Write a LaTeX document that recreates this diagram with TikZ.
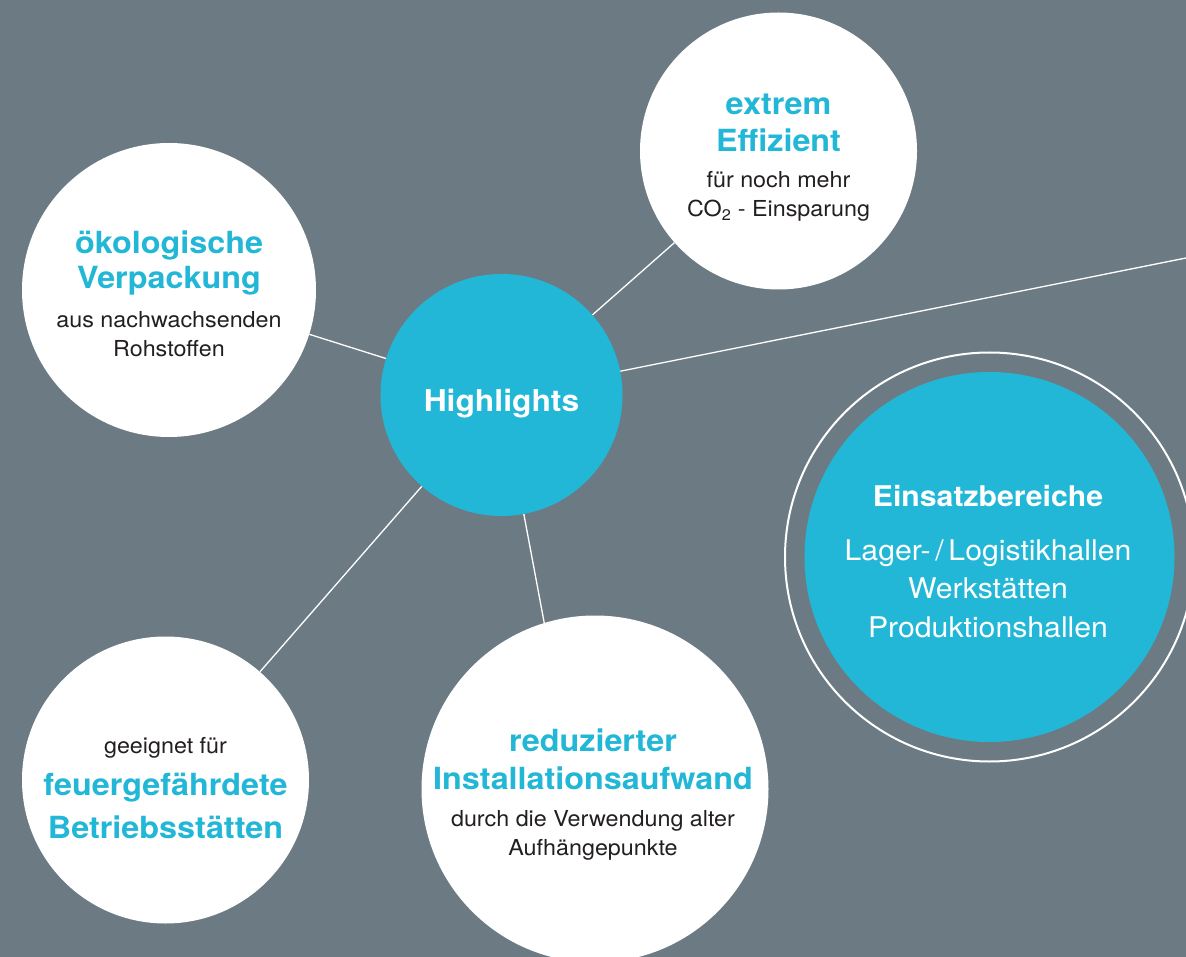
\documentclass[tikz,border=0pt]{standalone}
\usepackage{fontspec}
\setmainfont[FakeStretch=1.06]{TeX Gyre Heros}
\definecolor{bgGray}{HTML}{6C7B83}
\definecolor{hlCyan}{HTML}{22B7D6}
\definecolor{txtDark}{HTML}{231F20}
\newcommand{\ttl}{\fontsize{30.5}{37}\selectfont\bfseries\color{hlCyan}}

\begin{document}
\begin{tikzpicture}[x=1pt,y=-1pt,
    bubble/.style={circle, fill=white, inner sep=0pt},
    hub/.style={circle, fill=hlCyan, inner sep=0pt},
    ring/.style={circle, draw=white, line width=2pt, inner sep=0pt},
    link/.style={white, line width=1.3pt},
    txt/.style={align=center, anchor=base, text=txtDark, inner sep=0pt,
      font=\fontsize{22}{29}\selectfont}]
    \useasboundingbox (0,0) rectangle (1186,957);
    \clip (0,0) rectangle (1186,957);
    \fill[bgGray] (0,0) rectangle (1186,957);

    % circles
    \node[hub, minimum size=242] (H) at (501.5,395) {};
    \node[bubble, minimum size=277] (E) at (778.5,151) {};
    \node[bubble, minimum size=294] (O) at (169,290) {};
    \node[bubble, minimum size=287] (F) at (165.5,780) {};
    \node[bubble, minimum size=347] (R) at (595,789) {};
    \node[ring, minimum size=409] (Bring) at (989.5,557) {};
    \node[hub, minimum size=370] (B) at (989.5,557) {};
    \coordinate (X) at (1186,258);

    % connectors
    \draw[link] (H) -- (E);
    \draw[link] (H) -- (O);
    \draw[link] (H) -- (F);
    \draw[link] (H) -- (R.107);
    \draw[link] (H) -- (X);

    % texts (base = last line)
    \node[txt, text=white, font=\fontsize{30}{36}\selectfont\bfseries] (Ht) at (501.5,412) {Highlights};
    \node[txt] (Et) at (778.5,217) {\ttl extrem\\[8pt] \ttl Effizient\\[7pt] für noch mehr\\ CO\textsubscript{2} - Einsparung};
    \node[txt] (Ot) at (169,357) {\ttl ökologische\\[6pt] \ttl Verpackung\\[10pt] aus nachwachsenden\\ Rohstoffen};
    \node[txt] (Ft) at (165.5,838) {geeignet für\\[13pt] \ttl feuergefährdete\\[12pt] \ttl Betriebsstätten};
    \node[txt] (Rt) at (593,855) {\ttl reduzierter\\[9pt] \ttl Installationsaufwand\\[8pt] durch die Verwendung alter\\ Aufhängepunkte};
    \node[txt, text=white, font=\fontsize{28.5}{38.5}\selectfont] (Bt) at (988,637) {{\bfseries Einsatzbereiche}\\[15pt] Lager-\,/\,Logistikhallen\\ Werkstätten\\ Produktionshallen};
\end{tikzpicture}
\end{document}
